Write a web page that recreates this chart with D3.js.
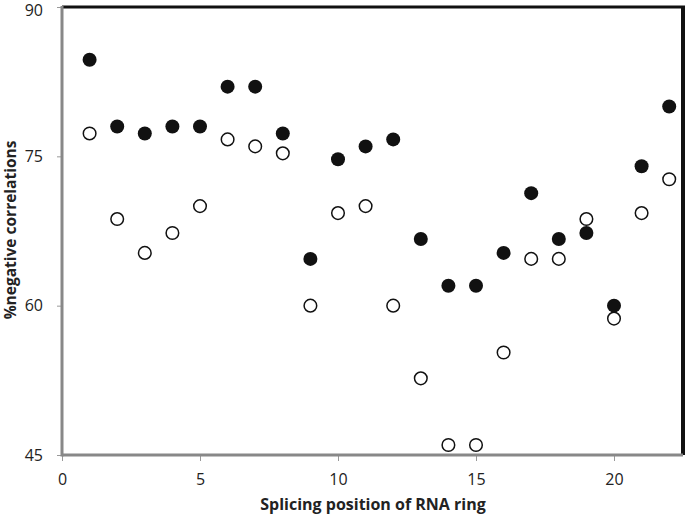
<!DOCTYPE html>
<html><head><meta charset="utf-8">
<script src="https://cdn.jsdelivr.net/npm/d3@7"></script>
<style>body{margin:0;background:#fff}svg{display:block}</style>
</head><body>
<script>
const positions = [1,2,3,4,5,6,7,8,9,10,11,12,13,14,15,16,17,18,19,20,21,22];
const filledValues = [84.7,78,77.3,78,78,82,82,77.3,64.7,74.7,76,76.7,66.7,62,62,65.3,71.3,66.7,67.3,60,74,80];
const openValues = [77.3,68.7,65.3,67.3,70,76.7,76,75.3,60,69.3,70,60,52.7,46,46,55.3,64.7,64.7,68.7,58.7,69.3,72.7];
const xTicks = [0,5,10,15,20];
const yTicks = [45,60,75,90];
const xTitle = "Splicing position of RNA ring";
const yTitle = "%negative correlations";

const W = 685, H = 518;
const L = 62, R = 683, T = 7, B = 455;
const svg = d3.select("body").append("svg").attr("width", W).attr("height", H);
const x = d3.scaleLinear().domain([0, 22.5]).range([L, R]);
const y = d3.scaleLinear().domain([45, 90]).range([B, T]);
const font = "'Open Sans', 'Liberation Sans', sans-serif";

// frame top & right (black)
svg.append("line").attr("x1", L).attr("x2", R + 2).attr("y1", T).attr("y2", T).attr("stroke", "#111").attr("stroke-width", 3);
svg.append("line").attr("x1", R).attr("x2", R).attr("y1", T).attr("y2", B).attr("stroke", "#111").attr("stroke-width", 4);

// axes
const yAxis = svg.append("g").attr("transform", `translate(${L},0)`)
  .call(d3.axisLeft(y).tickValues(yTicks).tickSize(5).tickPadding(14));
const xAxis = svg.append("g").attr("transform", `translate(0,${B})`)
  .call(d3.axisBottom(x).tickValues(xTicks).tickSize(6).tickPadding(13));
[yAxis, xAxis].forEach(g => {
  g.select(".domain").remove();
  g.selectAll(".tick line").attr("stroke", "#999").attr("stroke-width", 1);
  g.selectAll(".tick text").attr("font-family", font).attr("font-size", 16).attr("fill", "#222");
});
yAxis.selectAll(".tick text").filter(d => d === 90).attr("dy", "0.38em").attr("y", 2);
svg.append("line").attr("x1", L).attr("x2", L).attr("y1", T - 1).attr("y2", B + 1.5).attr("stroke", "#888").attr("stroke-width", 3);
svg.append("line").attr("x1", L).attr("x2", R).attr("y1", B).attr("y2", B).attr("stroke", "#888").attr("stroke-width", 3);

// points
svg.append("g").selectAll("circle").data(positions.map((p, i) => [p, openValues[i]])).join("circle")
  .attr("cx", d => x(d[0])).attr("cy", d => y(d[1])).attr("r", 6.3)
  .attr("fill", "#fff").attr("stroke", "#111").attr("stroke-width", 1.5);
svg.append("g").selectAll("circle").data(positions.map((p, i) => [p, filledValues[i]])).join("circle")
  .attr("cx", d => x(d[0])).attr("cy", d => y(d[1])).attr("r", 7)
  .attr("fill", "#111");

// titles
svg.append("text").attr("x", 373).attr("y", 510).attr("text-anchor", "middle")
  .attr("font-family", font).attr("font-weight", "bold").attr("font-size", 16).attr("fill", "#222").text(xTitle);
svg.append("text").attr("transform", "translate(16,230) rotate(-90)").attr("text-anchor", "middle")
  .attr("font-family", font).attr("font-weight", "bold").attr("font-size", 15.5).attr("fill", "#222").text(yTitle);
</script>
</body></html>
